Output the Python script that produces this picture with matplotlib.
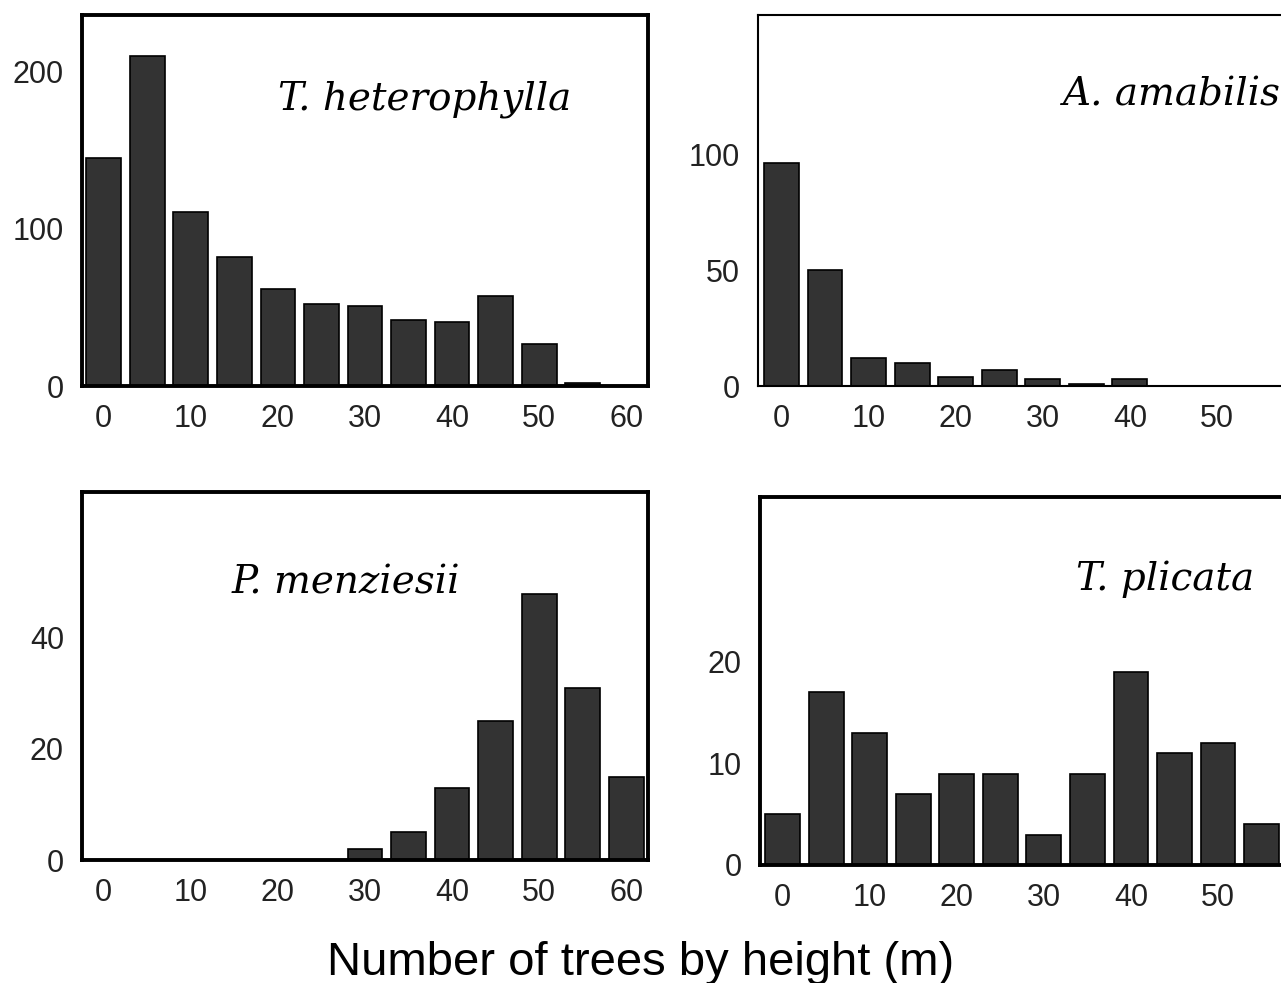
import matplotlib
matplotlib.use("Agg")
import matplotlib.pyplot as plt

# ---- data ----
bins = [0, 5, 10, 15, 20, 25, 30, 35, 40, 45, 50, 55, 60]
t_heterophylla = [145, 210, 111, 82, 62, 52, 51, 42, 41, 57, 27, 2, 0]
a_amabilis = [96, 50, 12, 10, 4, 7, 3, 1, 3, 0, 0, 0, 0]
p_menziesii = [0, 0, 0, 0, 0, 0, 2, 5, 13, 25, 48, 31, 15]
t_plicata = [5, 17, 13, 7, 9, 9, 3, 9, 19, 11, 12, 4, 0]

names = ["T. heterophylla", "A. amabilis", "P. menziesii", "T. plicata"]
xlabel = "Number of trees by height (m)"

W, H = 1281, 983
fig = plt.figure(figsize=(W / 100, H / 100), dpi=100)
fig.patch.set_facecolor("white")


def add_axes(left, top, bottom, width):
    return fig.add_axes([left / W, 1 - bottom / H, width / W, (bottom - top) / H])


tick_font = dict(family="Liberation Sans", size=22)
title_font = dict(family="DejaVu Serif", style="italic", size=28)

panels = [
    # (values, axes px geometry, xlim, ylim, xticks, yticks, spine lw)
    (t_heterophylla, (82, 15, 386, 566), (-2.5, 62.5), (0, 236), [0, 10, 20, 30, 40, 50, 60], [0, 100, 200], 2.8),
    (a_amabilis, (758, 15, 386, 566), (-2.7, 62.3), (0, 160), [0, 10, 20, 30, 40, 50], [0, 50, 100], 1.5),
    (p_menziesii, (82, 492, 860, 566), (-2.5, 62.5), (0, 66.3), [0, 10, 20, 30, 40, 50, 60], [0, 20, 40], 2.8),
    (t_plicata, (760, 497, 865, 566), (-2.6, 62.4), (0, 36.2), [0, 10, 20, 30, 40, 50], [0, 10, 20], 2.8),
]

axes = []
for vals, geom, xl, yl, xt, yt, lw in panels:
    ax = add_axes(*geom)
    ax.bar(bins, vals, width=4.0, color="#333333", edgecolor="black", linewidth=1.2, zorder=2)
    ax.set_xlim(*xl)
    ax.set_ylim(*yl)
    ax.set_xticks(xt)
    ax.set_yticks(yt)
    ax.set_xticklabels([str(v) for v in xt], fontdict=tick_font)
    ax.set_yticklabels([str(v) for v in yt], fontdict=tick_font)
    ax.tick_params(length=0, pad=13, colors="#222222")
    for s in ax.spines.values():
        s.set_linewidth(lw)
        s.set_color("black")
    axes.append(ax)

# species labels
fig.text(425 / W, 1 - 110 / H, names[0], ha="center", va="baseline", **title_font)
fig.text(1063 / W, 1 - 105 / H, names[1], ha="left", va="baseline", **title_font)
fig.text(346 / W, 1 - 594 / H, names[2], ha="center", va="baseline", **title_font)
fig.text(1076 / W, 1 - 590 / H, names[3], ha="left", va="baseline", **title_font)

fig.text(641 / W, 1 - 975 / H, xlabel, ha="center", va="baseline",
         family="Liberation Sans", size=34)

fig.savefig("out.png", dpi=100)
